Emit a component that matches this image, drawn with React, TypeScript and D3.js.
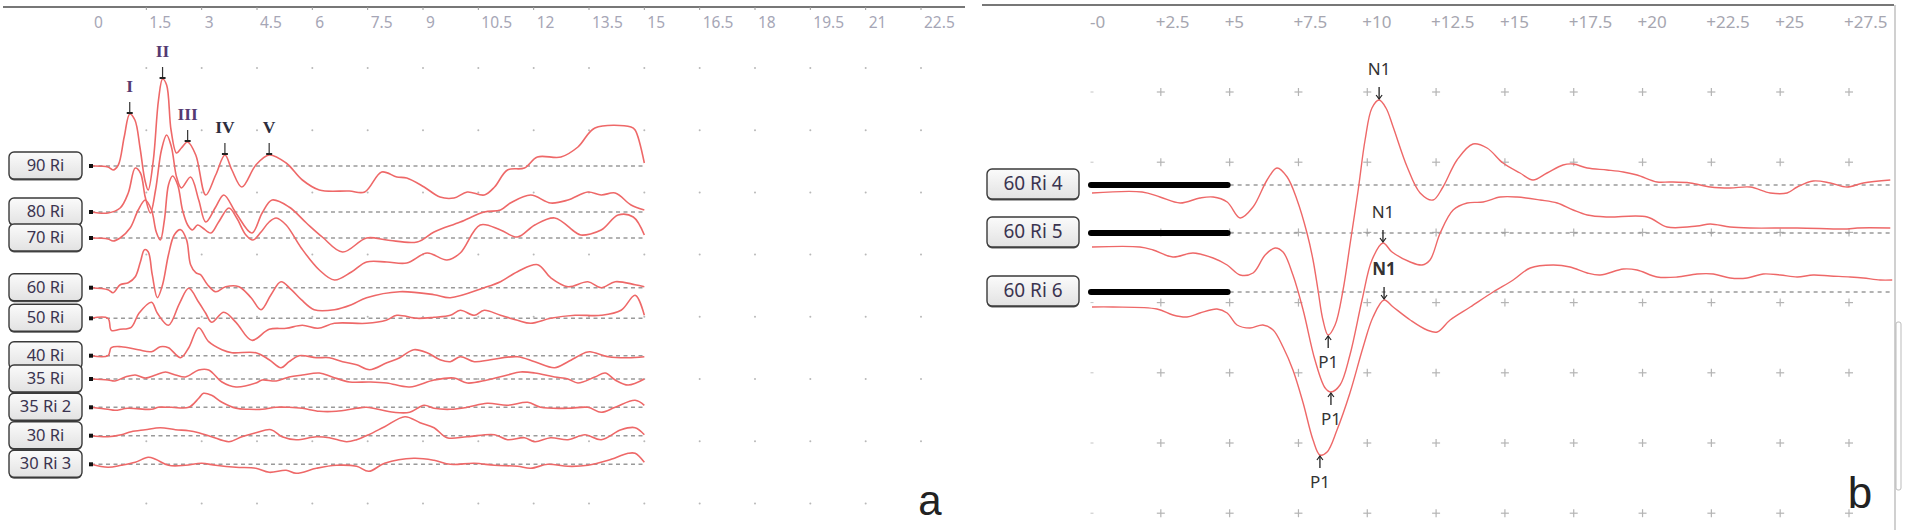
import React from "react";
import * as d3 from "d3";

type Pt = [number, number];

// ---------- Panel a : time (ms) vs amplitude (µV) ----------
const TICKS_A = [0, 1.5, 3, 4.5, 6, 7.5, 9, 10.5, 12, 13.5, 15, 16.5, 18, 19.5, 21, 22.5];
const TICK_LABELS_A = ["0", "1.5", "3", "4.5", "6", "7.5", "9", "10.5", "12", "13.5", "15", "16.5", "18", "19.5", "21", "22.5"];
const TRACE_NAMES_A = ["90 Ri", "80 Ri", "70 Ri", "60 Ri", "50 Ri", "40 Ri", "35 Ri", "35 Ri 2", "30 Ri", "30 Ri 3"];

const W90: Pt[] = [[0,0],[0.46,-0.01],[0.6,-0.04],[0.74,0.01],[0.9,0.29],[1.05,0.52],[1.19,0.46],[1.33,0.18],[1.46,-0.14],[1.55,-0.24],[1.69,0.06],[1.83,0.66],[1.94,0.87],[2.05,0.81],[2.17,0.36],[2.32,0.13],[2.45,0.18],[2.62,0.24],[2.84,0.11],[3.11,-0.29],[3.38,-0.09],[3.63,0.11],[3.82,-0.04],[4.09,-0.21],[4.47,0.01],[4.83,0.11],[5.29,0.03],[5.73,-0.14],[6.19,-0.24],[7.0,-0.25],[7.42,-0.26],[7.88,-0.06],[8.29,-0.11],[8.56,-0.12],[9.03,-0.21],[9.46,-0.31],[9.84,-0.32],[10.2,-0.26],[10.66,-0.29],[10.94,-0.21],[11.29,-0.04],[11.75,-0.02],[12.1,0.09],[12.74,0.09],[13.2,0.19],[13.66,0.38],[14.64,0.39],[14.75,0.36],[15,0.03]];
const W80: Pt[] = [[0,0],[0.46,-0.01],[0.79,0.04],[1.01,0.19],[1.2,0.44],[1.34,0.39],[1.47,0.15],[1.61,-0.01],[1.75,0.22],[1.91,0.62],[2.05,0.77],[2.18,0.65],[2.32,0.35],[2.45,0.24],[2.7,0.35],[2.92,0.12],[3.11,-0.1],[3.38,0.05],[3.6,0.17],[3.93,-0.01],[4.36,-0.21],[4.64,-0.01],[4.91,0.12],[5.37,0.05],[5.84,-0.11],[6.27,-0.25],[6.82,-0.4],[7.47,-0.26],[8.02,-0.28],[8.84,-0.3],[9.3,-0.2],[10.01,-0.1],[10.66,0],[11.1,0.02],[11.37,0.09],[11.92,0.17],[12.46,0.09],[12.93,0.12],[13.47,0.2],[13.83,0.17],[14.21,0.19],[14.64,0.07],[15,0.02]];
const W70: Pt[] = [[0,0],[0.46,-0.01],[0.6,-0.03],[0.79,0],[1.06,0.1],[1.28,0.28],[1.47,0.38],[1.64,0.28],[1.77,0.06],[1.88,-0.02],[1.99,0.18],[2.1,0.53],[2.21,0.62],[2.35,0.53],[2.48,0.28],[2.62,0.13],[2.75,0.08],[2.89,0.13],[3.03,0.1],[3.25,0.05],[3.46,0.16],[3.74,0.3],[3.95,0.2],[4.2,0.03],[4.39,-0.02],[4.61,0.06],[4.83,0.16],[5.02,0.2],[5.29,0.13],[5.7,-0.1],[6.19,-0.32],[6.6,-0.42],[7.06,-0.34],[7.47,-0.24],[8.02,-0.24],[8.56,-0.25],[9.11,-0.15],[9.65,-0.22],[10.01,-0.15],[10.55,0.13],[11.1,0.08],[11.56,0.01],[12.03,0.13],[12.57,0.2],[13.12,0.06],[13.28,0.03],[13.83,0.08],[14.29,0.23],[14.7,0.21],[15,0.03]];
const W60: Pt[] = [[0,0],[0.46,-0.02],[0.6,-0.05],[0.79,0.03],[1.01,0.05],[1.2,0.11],[1.34,0.26],[1.45,0.38],[1.55,0.36],[1.66,0.13],[1.8,-0.1],[1.94,0.03],[2.1,0.33],[2.26,0.53],[2.43,0.58],[2.59,0.48],[2.7,0.23],[2.84,0.15],[2.97,0.13],[3.16,0.03],[3.38,-0.04],[3.65,0.01],[4.01,0.01],[4.34,-0.1],[4.61,-0.22],[4.88,-0.07],[5.15,0.06],[5.43,-0.02],[5.7,-0.12],[6.05,-0.22],[6.6,-0.22],[7.06,-0.17],[7.47,-0.1],[8.37,-0.04],[9.3,-0.07],[9.74,-0.1],[10.66,0],[11.1,0.06],[11.56,0.16],[12.11,0.23],[12.46,0.1],[12.93,0.01],[13.47,0.06],[13.83,0],[14.21,0.06],[14.75,0.03],[15,0.01]];
const W50: Pt[] = [[0,0],[0.46,0],[0.55,-0.12],[0.79,-0.11],[1.09,-0.09],[1.3,0.05],[1.64,0.16],[1.8,0.05],[2.1,-0.07],[2.4,0.15],[2.65,0.3],[2.92,0.16],[3.11,0.05],[3.27,-0.04],[3.6,0.06],[3.93,-0.04],[4.36,-0.22],[4.83,-0.11],[5.29,-0.1],[5.73,-0.07],[6.15,-0.1],[6.6,-0.05],[7.47,-0.05],[8.0,-0.02],[8.29,0.03],[8.84,0],[9.3,0.01],[9.74,0.03],[10.01,0.08],[10.39,0.03],[10.66,0.08],[11.1,0.03],[11.56,-0.02],[11.92,-0.05],[12.46,0],[13.12,0.03],[13.83,0.03],[14.37,0.08],[14.75,0.23],[15,0.03]];
const W40: Pt[] = [[0,0],[0.46,0],[0.55,0.08],[0.82,0.09],[1.28,0.06],[1.64,0.04],[1.88,0.09],[2.1,0.08],[2.43,-0.02],[2.65,0.08],[2.92,0.28],[3.19,0.14],[3.55,0.06],[3.82,0.03],[4.47,0.03],[4.83,-0.04],[5.15,-0.12],[5.37,-0.06],[5.64,0],[6.11,-0.02],[6.46,-0.02],[6.82,-0.06],[7.2,-0.09],[7.55,-0.14],[8.02,-0.07],[8.37,-0.02],[8.75,0.06],[9.11,0.03],[9.46,-0.04],[9.74,-0.06],[10.01,-0.01],[10.39,-0.06],[10.83,-0.04],[11.56,-0.01],[12.03,-0.06],[12.57,-0.12],[12.93,-0.06],[13.39,0.03],[13.53,0.04],[14.02,-0.01],[14.56,-0.02],[15,-0.01]];
const W35: Pt[] = [[0,0],[0.46,-0.01],[0.65,-0.02],[0.93,0.02],[1.2,0.04],[1.47,0.01],[1.75,0.04],[2.02,0.07],[2.29,0.04],[2.56,0.02],[2.92,0.09],[3.19,0.09],[3.55,-0.03],[3.93,-0.08],[4.47,-0.04],[4.64,-0.01],[5.02,-0.02],[5.37,0.02],[5.73,0.04],[6.19,0.06],[6.54,0.02],[7.01,-0.03],[7.55,-0.03],[8.02,-0.04],[8.64,-0.08],[9.3,-0.01],[9.84,0.01],[10.2,-0.04],[10.74,-0.01],[11.29,0.04],[11.64,0.07],[12.03,0.06],[12.57,0.02],[12.93,0],[13.2,-0.04],[13.66,0.02],[13.94,0.06],[14.21,-0.01],[14.56,-0.06],[15,0]];
const W35b: Pt[] = [[0,0],[0.46,-0.02],[0.65,-0.03],[1.0,-0.01],[1.64,-0.02],[1.83,0],[2.18,0],[2.65,0],[2.92,0.09],[3.05,0.14],[3.27,0.12],[3.55,0.05],[3.93,-0.01],[4.28,-0.02],[4.64,-0.02],[5.02,0],[5.37,0],[5.73,-0.01],[6.19,-0.04],[6.65,-0.04],[7.2,-0.01],[7.47,0],[8.21,-0.05],[8.64,-0.05],[9.03,0.02],[9.3,-0.01],[9.74,-0.02],[10.2,0],[10.74,0.04],[11.29,0.02],[11.84,0.05],[12.19,0],[12.93,-0.01],[13.47,0],[13.83,-0.05],[14.21,0],[14.75,0.07],[15,0.02]];
const W30: Pt[] = [[0,0],[0.46,-0.01],[0.82,0.01],[1.09,0.04],[1.47,0.06],[1.88,0.08],[2.29,0.06],[2.65,0.05],[2.92,0.03],[3.27,-0.01],[3.74,-0.06],[4.09,-0.01],[4.47,0.03],[4.88,0.06],[5.18,-0.01],[5.56,-0.04],[6.11,-0.01],[6.46,-0.02],[6.93,-0.06],[7.2,-0.04],[7.53,0.01],[7.96,0.09],[8.51,0.19],[8.92,0.13],[9.3,0.08],[9.65,-0.02],[10.2,-0.01],[10.94,0.01],[11.29,-0.04],[11.75,-0.02],[12.03,-0.06],[12.46,-0.02],[12.93,-0.04],[13.39,0.01],[13.83,-0.04],[14.37,0.06],[14.75,0.08],[15,0.01]];
const W30b: Pt[] = [[0,0],[0.46,-0.03],[0.82,-0.01],[1.2,0.02],[1.55,0.07],[1.75,0.05],[2.1,-0.01],[2.56,-0.01],[3.0,0.01],[3.38,-0.01],[3.93,-0.03],[4.47,-0.04],[4.83,-0.08],[5.29,-0.06],[5.56,-0.09],[6.11,-0.04],[6.65,-0.01],[7.2,-0.02],[7.53,-0.07],[7.96,0.01],[8.75,0.06],[9.3,0.04],[9.74,0],[10.39,0.01],[10.94,-0.01],[11.56,-0.02],[11.92,-0.04],[12.38,0],[12.93,-0.02],[13.47,-0.01],[14.02,0.04],[14.56,0.11],[14.75,0.11],[15,0.02]];

const PEAK_NAMES_A = ["I", "II", "III", "IV", "V"];
const PEAK_TIMES_A = [1.05, 1.94, 2.62, 3.63, 4.83];
const PEAK_AMPS_A = [0.52, 0.87, 0.24, 0.11, 0.11];

// ---------- Panel b ----------
const TICKS_B = [0, 2.5, 5, 7.5, 10, 12.5, 15, 17.5, 20, 22.5, 25, 27.5];
const TICK_LABELS_B = ["-0", "+2.5", "+5", "+7.5", "+10", "+12.5", "+15", "+17.5", "+20", "+22.5", "+25", "+27.5"];
const TRACE_NAMES_B = ["60 Ri 4", "60 Ri 5", "60 Ri 6"];

const B4: Pt[] = [[0,-0.08],[1.82,-0.07],[2.47,-0.12],[3.2,-0.18],[3.92,-0.13],[4.4,-0.12],[4.91,-0.17],[5.38,-0.33],[5.85,-0.22],[6.36,0.05],[6.72,0.17],[7.09,0.08],[7.45,-0.15],[7.81,-0.48],[8.03,-0.75],[8.21,-1.05],[8.39,-1.35],[8.58,-1.5],[8.83,-1.4],[9.12,-1.05],[9.37,-0.6],[9.67,-0.05],[9.92,0.45],[10.17,0.77],[10.43,0.85],[10.68,0.77],[10.94,0.58],[11.45,0.18],[11.92,-0.08],[12.39,-0.15],[12.75,-0.02],[13.26,0.25],[13.84,0.41],[14.35,0.37],[14.93,0.22],[15.55,0.12],[16.02,0.05],[16.53,0.12],[17.11,0.2],[17.48,0.21],[17.99,0.17],[18.71,0.15],[19.3,0.13],[19.8,0.1],[20.53,0.03],[21.0,0.03],[21.73,0.02],[22.46,-0.02],[23.18,-0.03],[23.91,-0.02],[24.64,-0.08],[25.25,-0.08],[25.62,-0.02],[26.2,0.04],[26.82,0.02],[27.43,-0.02],[28.02,0.02],[29.0,0.05]];
const B5: Pt[] = [[0,-0.14],[1.74,-0.14],[2.22,-0.17],[2.94,-0.24],[3.67,-0.2],[4.4,-0.25],[4.91,-0.32],[5.38,-0.42],[5.85,-0.4],[6.29,-0.22],[6.65,-0.15],[6.94,-0.19],[7.3,-0.42],[7.67,-0.77],[8.1,-1.27],[8.47,-1.55],[8.68,-1.59],[9.01,-1.52],[9.37,-1.22],[9.81,-0.67],[10.17,-0.27],[10.57,-0.1],[10.9,-0.19],[11.56,-0.29],[11.99,-0.32],[12.28,-0.27],[12.65,0],[13.12,0.23],[13.63,0.3],[14.21,0.31],[14.83,0.36],[15.44,0.36],[16.28,0.33],[16.9,0.3],[17.48,0.23],[17.99,0.18],[18.71,0.16],[20.17,0.16],[20.89,0.06],[21.98,0.07],[22.46,0.09],[23.18,0.06],[23.91,0.05],[25.62,0.05],[27.43,0.04],[27.8,0.05],[29.0,0.05]];
const B6: Pt[] = [[0,-0.15],[0.76,-0.15],[2.36,-0.17],[2.94,-0.23],[3.45,-0.25],[3.92,-0.21],[4.54,-0.17],[4.91,-0.21],[5.27,-0.33],[5.74,-0.36],[6.21,-0.33],[6.58,-0.38],[6.94,-0.55],[7.3,-0.78],[7.67,-1.11],[8.03,-1.48],[8.28,-1.63],[8.54,-1.6],[8.9,-1.38],[9.37,-1.01],[9.85,-0.55],[10.21,-0.25],[10.61,-0.08],[10.94,-0.15],[11.56,-0.28],[12.17,-0.38],[12.54,-0.4],[13.01,-0.28],[13.74,-0.15],[14.57,0],[15.3,0.12],[15.92,0.24],[16.75,0.27],[17.37,0.25],[17.99,0.19],[18.46,0.17],[19.3,0.23],[19.8,0.22],[20.53,0.15],[21.26,0.15],[21.98,0.18],[22.57,0.18],[23.18,0.14],[23.8,0.14],[24.38,0.18],[25.0,0.17],[25.62,0.15],[26.2,0.17],[26.82,0.16],[27.54,0.15],[28.02,0.14],[28.63,0.12],[29.07,0.12]];

const N1_TIMES = [10.43, 10.57, 10.61];
const N1_AMPS = [0.85, -0.1, -0.08];
const P1_TIMES = [8.58, 8.68, 8.28];
const P1_AMPS = [-1.5, -1.59, -1.63];

// ---------- layout ----------
const TRACES_A = [W90, W80, W70, W60, W50, W40, W35, W35b, W30, W30b];
const BASE_A = [166, 212, 238, 287.7, 318.3, 355.7, 379, 407.3, 435.7, 464.3];
const TRACES_B = [B4, B5, B6];
const BASE_B = [185, 233, 292];

const xA = d3.scaleLinear().domain([0, 22.5]).range([91, 921]);
const ampA = d3.scaleLinear().domain([-1, 1]).range([100, -100]);
const xB = d3.scaleLinear().domain([0, 27.5]).range([1092, 1849]);
const ampB = d3.scaleLinear().domain([-1, 1]).range([100, -100]);

const TRACE_COLOR = "#ee6868";
const LABEL_FONT = "'Noto Sans', 'DejaVu Sans', sans-serif";

function LabelBox({ x, y, w, h, text, size }: { x: number; y: number; w: number; h: number; text: string; size: number }) {
  return (
    <g>
      <rect x={x} y={y + 1.5} width={w} height={h} rx={5} fill="#555" />
      <rect x={x} y={y} width={w} height={h} rx={5} fill="url(#boxGrad)" stroke="#3a3a3a" strokeWidth={1.4} />
      <text x={x + w / 2} y={y + h / 2 + 1} textAnchor="middle" dominantBaseline="middle" fontFamily={LABEL_FONT} fontSize={size} fill="#3b3450">
        {text}
      </text>
    </g>
  );
}

export default function App() {
  const lineA = (base: number) =>
    d3.line<Pt>().x((d) => xA(d[0])).y((d) => base + ampA(d[1])).curve(d3.curveCatmullRom.alpha(0.5));
  const lineB = (base: number) =>
    d3.line<Pt>().x((d) => xB(d[0])).y((d) => base + ampB(d[1])).curve(d3.curveCatmullRom.alpha(0.5));

  const rowsA = d3.range(8).map((i) => 68 + 62.2 * i);
  const colsA = TICKS_A.slice(1);
  const rowsB = d3.range(7).map((i) => 92 + 70.2 * i);

  return (
    <div style={{ position: "absolute", left: 0, top: 0 }}>
      <svg width={1906} height={530} style={{ display: "block", background: "#fff" }}>
        <defs>
          <linearGradient id="boxGrad" x1="0" y1="0" x2="0" y2="1">
            <stop offset="0" stopColor="#fbfbfb" />
            <stop offset="1" stopColor="#e2e2e2" />
          </linearGradient>
        </defs>

        {/* ===== Panel a ===== */}
        <line x1={3} x2={965} y1={7} y2={7} stroke="#777" strokeWidth={2} />
        {colsA.map((t, i) => (
          <line key={"tk" + i} x1={xA(t)} x2={xA(t)} y1={7} y2={10} stroke="#999" strokeWidth={1} />
        ))}
        {TICKS_A.map((t, i) => (
          <text key={"ta" + i} x={xA(t) + 3} y={24} dominantBaseline="middle" fontFamily={LABEL_FONT} fontSize={15.5} fill="#a6a6b6">
            {TICK_LABELS_A[i]}
          </text>
        ))}
        {rowsA.map((y, r) =>
          colsA.map((t, c) => <circle key={`da${r}-${c}`} cx={xA(t)} cy={y} r={1} fill="#b8b8b8" />)
        )}
        {BASE_A.map((b, i) => (
          <line key={"ba" + i} x1={xA(0)} x2={xA(15)} y1={b} y2={b} stroke="#9a9a9a" strokeWidth={1.5} strokeDasharray="4 3.5" />
        ))}
        {TRACES_A.map((tr, i) => (
          <path key={"wa" + i} d={lineA(BASE_A[i])(tr) || ""} fill="none" stroke={TRACE_COLOR} strokeWidth={1.6} />
        ))}
        {BASE_A.map((b, i) => (
          <rect key={"sq" + i} x={xA(0) - 2} y={b - 2} width={4} height={4} fill="#111" />
        ))}
        {TRACE_NAMES_A.map((n, i) => (
          <LabelBox key={"la" + i} x={9} y={BASE_A[i] - 14} w={73} h={27} text={n} size={16.5} />
        ))}
        {PEAK_NAMES_A.map((n, i) => {
          const x = xA(PEAK_TIMES_A[i]);
          const y = BASE_A[0] + ampA(PEAK_AMPS_A[i]);
          return (
            <g key={"pk" + i}>
              <line x1={x} x2={x} y1={y - 12} y2={y} stroke="#333" strokeWidth={1.2} />
              <line x1={x - 3} x2={x + 3} y1={y - 1} y2={y - 1} stroke="#222" strokeWidth={2} />
              <text x={x} y={y - 26} textAnchor="middle" dominantBaseline="middle" fontFamily="'Liberation Serif', 'DejaVu Serif', serif" fontWeight="bold" fontSize={17.5} fill={i < 3 ? "#553a72" : "#2d2d3d"}>
                {n}
              </text>
            </g>
          );
        })}
        <text x={930} y={515} textAnchor="middle" fontFamily="'Liberation Sans', Arial, sans-serif" fontSize={42} fill="#222">a</text>

        {/* ===== Panel b ===== */}
        <line x1={982} x2={1894} y1={5} y2={5} stroke="#777" strokeWidth={2} />
        <line x1={1895} x2={1895} y1={5} y2={530} stroke="#d0d0d0" strokeWidth={2} />
        <rect x={1896} y={322} width={5} height={168} rx={2} fill="none" stroke="#bbb" strokeWidth={1} />
        {TICKS_B.map((t, i) => (
          <text key={"tb" + i} x={xB(t) - (i === 0 ? 2 : 5)} y={23} dominantBaseline="middle" fontFamily={LABEL_FONT} fontSize={17} fill="#a6a6b0">
            {TICK_LABELS_B[i]}
          </text>
        ))}
        {rowsB.map((y, r) =>
          TICKS_B.map((t, c) =>
            c === 0 ? (
              <line key={`cb${r}-${c}`} x1={xB(t) - 1.5} x2={xB(t) + 1.5} y1={y} y2={y} stroke="#c4c4c4" strokeWidth={1} />
            ) : (
              <g key={`cb${r}-${c}`} stroke="#b4b4b4" strokeWidth={1.2}>
                <line x1={xB(t) - 4} x2={xB(t) + 4} y1={y} y2={y} />
                <line x1={xB(t)} x2={xB(t)} y1={y - 4} y2={y + 4} />
              </g>
            )
          )
        )}
        {BASE_B.map((b, i) => (
          <g key={"bb" + i}>
            <line x1={xB(5)} x2={1893} y1={b} y2={b} stroke="#9a9a9a" strokeWidth={1.5} strokeDasharray="4 4" />
            <line x1={xB(0) - 1} x2={xB(5) - 2} y1={b} y2={b} stroke="#000" strokeWidth={6} strokeLinecap="round" />
          </g>
        ))}
        {TRACES_B.map((tr, i) => (
          <path key={"wb" + i} d={lineB(BASE_B[i])(tr) || ""} fill="none" stroke={TRACE_COLOR} strokeWidth={1.4} />
        ))}
        {TRACE_NAMES_B.map((n, i) => (
          <LabelBox key={"lb" + i} x={987} y={BASE_B[i] - 16} w={92} h={30} text={n} size={19} />
        ))}
        {N1_TIMES.map((t, i) => {
          const x = xB(t);
          const y = BASE_B[i] + ampB(N1_AMPS[i]);
          return (
            <g key={"n1" + i}>
              <line x1={x} x2={x} y1={y - 13} y2={y - 1} stroke="#222" strokeWidth={1.3} />
              <path d={`M${x - 3},${y - 5} L${x},${y - 1} L${x + 3},${y - 5}`} fill="none" stroke="#222" strokeWidth={1.2} />
              <text x={x} y={y - 30} textAnchor="middle" dominantBaseline="middle" fontFamily={LABEL_FONT} fontSize={17} fontWeight={i === 2 ? "bold" : "normal"} fill="#333">
                N1
              </text>
            </g>
          );
        })}
        {P1_TIMES.map((t, i) => {
          const x = xB(t);
          const y = BASE_B[i] + ampB(P1_AMPS[i]);
          return (
            <g key={"p1" + i}>
              <line x1={x} x2={x} y1={y + 1} y2={y + 13} stroke="#222" strokeWidth={1.3} />
              <path d={`M${x - 3},${y + 5} L${x},${y + 1} L${x + 3},${y + 5}`} fill="none" stroke="#222" strokeWidth={1.2} />
              <text x={x} y={y + 28} textAnchor="middle" dominantBaseline="middle" fontFamily={LABEL_FONT} fontSize={17} fill="#333">
                P1
              </text>
            </g>
          );
        })}
        <text x={1860} y={508} textAnchor="middle" fontFamily="'Liberation Sans', Arial, sans-serif" fontSize={44} fill="#222">b</text>
      </svg>
    </div>
  );
}
